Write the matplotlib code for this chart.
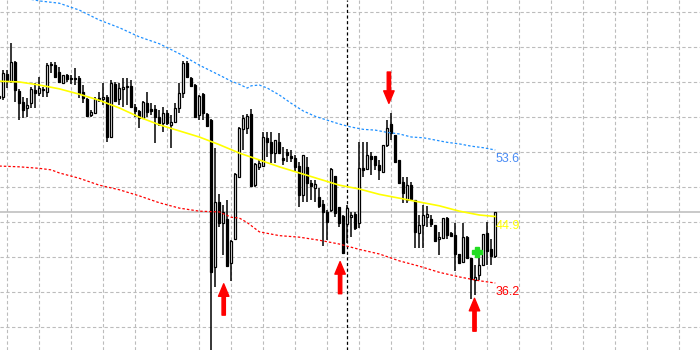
import matplotlib
matplotlib.use("Agg")
import matplotlib.pyplot as plt
import numpy as np

# bar data (price units)
opens = [60.7, 60.5, 63.5, 62.6, 65.1, 61.3, 59.9, 59.1, 59.7, 61.4,
         61.1, 61.6, 61.2, 64.7, 64.7, 63.8, 62.4, 63.4, 63.0, 63.0,
         63.0, 61.2, 60.3, 58.2, 58.4, 60.4, 60.3, 60.5, 55.3, 62.2,
         60.3, 61.6, 61.8, 62.0, 59.2, 58.7, 57.8, 59.7, 59.0, 59.0,
         57.9, 57.1, 58.4, 56.9, 57.3, 59.1, 61.1, 65.0, 63.0, 62.1,
         58.2, 60.9, 58.3, 57.5, 38.3, 46.8, 44.1, 44.6, 38.8, 42.0,
         50.1, 56.3, 56.5, 58.3, 49.0, 51.4, 51.5, 55.2, 54.6, 53.2,
         54.6, 52.6, 53.3, 52.8, 52.6, 51.5, 47.7, 51.4, 49.3, 48.6,
         47.5, 46.5, 45.5, 45.8, 50.2, 46.1, 45.0, 43.9, 44.8, 45.2,
         44.1, 51.2, 51.1, 52.8, 52.8, 51.6, 50.7, 54.3, 57.0, 55.6,
         52.3, 49.4, 47.1, 49.0, 47.1, 42.7, 43.8, 44.8, 44.6, 43.8,
         42.0, 42.1, 44.7, 42.7, 42.5, 40.0, 39.0, 42.2, 39.5, 36.6,
         37.3, 38.6, 42.7, 40.6, 39.7]
highs = [61.1, 64.1, 64.1, 67.6, 65.2, 61.6, 60.5, 60.4, 61.8, 62.4,
         63.1, 61.8, 65.0, 65.1, 65.1, 64.5, 63.4, 63.5, 63.4, 64.3,
         63.3, 62.1, 60.4, 58.8, 60.5, 61.2, 62.4, 60.8, 62.8, 62.5,
         62.4, 63.0, 63.0, 62.8, 59.6, 58.8, 60.0, 61.2, 59.7, 59.5,
         58.8, 59.2, 58.8, 58.2, 59.7, 62.4, 65.2, 65.2, 63.1, 62.2,
         60.8, 61.1, 58.4, 57.7, 53.9, 47.8, 46.4, 47.1, 41.8, 50.6,
         56.6, 58.2, 58.3, 59.0, 51.9, 52.3, 56.0, 56.0, 56.0, 54.9,
         55.8, 54.0, 53.7, 53.6, 53.0, 52.0, 53.0, 52.7, 49.7, 49.7,
         48.6, 47.1, 45.8, 51.2, 50.2, 46.1, 45.1, 46.4, 45.5, 45.5,
         54.6, 54.6, 54.6, 53.3, 52.8, 52.3, 54.3, 57.5, 58.4, 55.6,
         52.3, 50.1, 50.1, 49.4, 47.1, 45.1, 46.4, 46.3, 45.1, 43.8,
         42.9, 44.7, 44.8, 42.9, 44.1, 40.0, 44.1, 42.4, 39.5, 38.6,
         39.9, 42.6, 44.2, 42.0, 45.5]
lows = [60.1, 60.1, 61.7, 62.4, 59.9, 57.5, 57.8, 57.9, 59.1, 59.1,
        60.7, 60.5, 60.5, 63.7, 63.0, 62.4, 62.2, 62.5, 62.2, 62.1,
        60.4, 59.7, 57.9, 57.9, 58.3, 59.9, 59.5, 54.6, 55.2, 59.9,
        59.5, 59.2, 59.5, 59.1, 57.9, 56.5, 57.7, 57.9, 58.2, 54.5,
        56.7, 56.0, 56.9, 53.9, 57.1, 58.4, 60.4, 63.0, 61.8, 57.8,
        57.5, 57.5, 56.6, 26.8, 35.7, 43.5, 39.9, 38.3, 36.5, 41.8,
        49.9, 53.6, 55.7, 48.8, 48.8, 51.0, 51.4, 52.7, 51.9, 51.9,
        53.2, 51.6, 52.0, 52.0, 50.7, 46.1, 46.8, 46.8, 47.1, 46.8,
        46.0, 41.0, 41.8, 45.5, 44.8, 43.5, 40.0, 41.4, 42.2, 43.1,
        43.4, 50.1, 51.0, 50.3, 51.0, 49.7, 50.6, 54.0, 54.9, 51.9,
        49.2, 46.7, 46.7, 47.1, 40.8, 40.8, 40.8, 43.5, 43.5, 41.6,
        39.9, 42.0, 42.0, 42.4, 37.8, 38.8, 38.8, 39.5, 34.1, 34.6,
        36.6, 38.4, 38.6, 38.6, 39.5]
closes = [60.4, 63.7, 62.8, 65.1, 61.4, 59.7, 58.8, 59.5, 61.6, 61.1,
          61.7, 61.4, 64.7, 64.9, 63.1, 62.5, 63.4, 62.9, 62.9, 62.9,
          61.1, 60.4, 58.0, 58.6, 60.3, 60.3, 60.5, 55.3, 62.4, 60.0,
          61.7, 61.8, 62.0, 59.2, 58.7, 57.8, 59.9, 58.6, 58.7, 57.9,
          57.1, 58.4, 57.1, 57.3, 59.1, 61.1, 65.0, 63.1, 62.0, 57.9,
          60.7, 58.4, 56.7, 37.6, 46.8, 44.1, 45.5, 38.4, 41.7, 50.5,
          56.5, 57.8, 58.0, 48.9, 51.8, 51.9, 55.3, 54.6, 53.2, 54.9,
          53.2, 52.3, 53.0, 52.6, 51.4, 47.7, 53.0, 49.3, 48.9, 49.2,
          46.3, 45.5, 44.2, 51.1, 45.4, 44.1, 40.1, 46.0, 45.1, 43.4,
          51.2, 51.0, 53.0, 52.4, 51.6, 51.0, 54.3, 56.5, 55.8, 52.0,
          49.3, 48.0, 49.0, 47.2, 42.9, 43.8, 45.1, 45.2, 43.9, 41.7,
          42.2, 44.7, 42.5, 42.4, 40.0, 38.8, 42.2, 39.5, 36.7, 37.0,
          38.6, 42.6, 40.4, 39.7, 45.5]

# envelope lines (bar index, price)
upper_idx = [8, 10, 15, 20, 25, 30, 35, 40, 45, 50, 55, 58, 60, 62, 63, 65, 67,
             70, 73, 76, 79, 82, 85, 88, 91, 94, 97, 100, 103, 106, 109, 112,
             115, 118, 121, 124]
upper_val = [73.3, 73.1, 72.8, 71.9, 70.6, 69.6, 68.4, 67.5, 66.2, 64.7, 63.4,
             62.6, 62.2, 61.7, 62.0, 62.1, 61.7, 60.8, 59.7, 58.7, 58.0, 57.5,
             57.0, 56.6, 56.3, 56.2, 55.9, 55.7, 55.3, 55.2, 54.9, 54.6, 54.4,
             54.1, 53.9, 53.6]
mid_idx = [0, 5, 10, 15, 20, 25, 30, 35, 40, 45, 50, 55, 60, 65, 70, 75, 80,
           85, 90, 95, 100, 105, 110, 115, 120, 124]
mid_val = [62.6, 62.5, 62.1, 61.6, 60.9, 60.1, 59.1, 57.9, 56.9, 56.1, 55.3,
           54.3, 53.2, 52.3, 51.4, 50.6, 49.8, 49.0, 48.5, 47.8, 47.3, 46.8,
           46.3, 45.6, 45.1, 44.9]
lower_idx = [0, 5, 10, 13, 15, 20, 25, 30, 35, 40, 45, 50, 55, 58, 60, 62, 65,
             70, 75, 80, 85, 90, 95, 100, 105, 110, 115, 120, 124]
lower_val = [51.5, 51.4, 51.2, 51.0, 50.6, 49.9, 49.0, 48.4, 47.6, 46.7, 46.0,
             45.6, 45.5, 44.8, 44.7, 44.1, 42.9, 42.4, 42.2, 41.8, 41.3, 40.6,
             40.0, 39.1, 38.4, 37.6, 37.0, 36.5, 36.2]
band_labels = ["53.6", "44.9", "36.2"]

last_price = 45.5
cursor_bar = 87

# signal arrows: bar position, tip price, tail price
up_x = [56.1, 85.2, 118.8]
up_tip = [36.1, 39.0, 34.2]
up_tail = [32.0, 34.8, 29.9]
down_x = [97.4]
down_tip = [59.7]
down_tail = [63.8]
signal_x, signal_y = 119.3, 40.2

plt.rcParams['font.family'] = ['Liberation Sans', 'DejaVu Sans']

fig = plt.figure(figsize=(7, 3.5), dpi=100)
ax = fig.add_axes([0, 0, 1, 1])
ax.set_xlim(0.175, 175.175)
ax.set_ylim(27.44, 73.22)

# pixel-spaced terminal grid
ax.set_xticks(np.arange(1.925, 175, 8))
ax.set_yticks(71.65 - 4.578 * np.arange(10))
ax.tick_params(length=0, labelbottom=False, labelleft=False)
for s in ax.spines.values():
    s.set_visible(False)
ax.grid(True, color='#bcbcbc', linestyle=(0, (3, 2.2)), linewidth=0.8)
ax.set_axisbelow(True)

ax.axhline(last_price, color='#c0c0c0', lw=1.2, zorder=1)
ax.axvline(cursor_bar, color='black', lw=0.9, linestyle=(0, (2.5, 2)), zorder=1)

# candles
o = np.array(opens)
c = np.array(closes)
idx = np.arange(len(o))
bull = c >= o
bottom = np.minimum(o, c)
height = np.maximum(np.abs(c - o), 0.12)
ax.vlines(idx, lows, highs, color='black', lw=1.1, zorder=2)
ax.bar(idx, height, bottom=bottom, width=0.5,
       color=np.where(bull, 'white', 'black'), edgecolor='black',
       linewidth=0.9, zorder=3)

# bands
ax.plot(upper_idx, upper_val, color='#1e90ff', lw=0.9, linestyle=(0, (2, 1.6)), zorder=4)
ax.plot(mid_idx, mid_val, color='#ffff00', lw=1.2, zorder=4)
ax.plot(lower_idx, lower_val, color='#ff0000', lw=0.9, linestyle=(0, (2, 1.6)), zorder=4)

for val, txt, col in zip([upper_val[-1], mid_val[-1], lower_val[-1]], band_labels,
                         ['#4a8cf5', '#ffff00', '#ff0000']):
    ax.annotate(txt, xy=(upper_idx[-1], val), xytext=(0, -2.5),
                textcoords='offset points', ha='left', va='top',
                color=col, fontsize=9, zorder=5)

arrow_kw = dict(facecolor='#ff0000', edgecolor='#ff0000', width=2.4,
                headwidth=7.5, headlength=9, shrink=0)
for x, tip, tail in zip(up_x + down_x, up_tip + down_tip, up_tail + down_tail):
    ax.annotate('', xy=(x, tip), xytext=(x, tail), arrowprops=arrow_kw, zorder=6)

ax.plot([signal_x], [signal_y], marker='P', color='#22dd22', markersize=6.5, zorder=6)

fig.savefig('out.png', dpi=100)
